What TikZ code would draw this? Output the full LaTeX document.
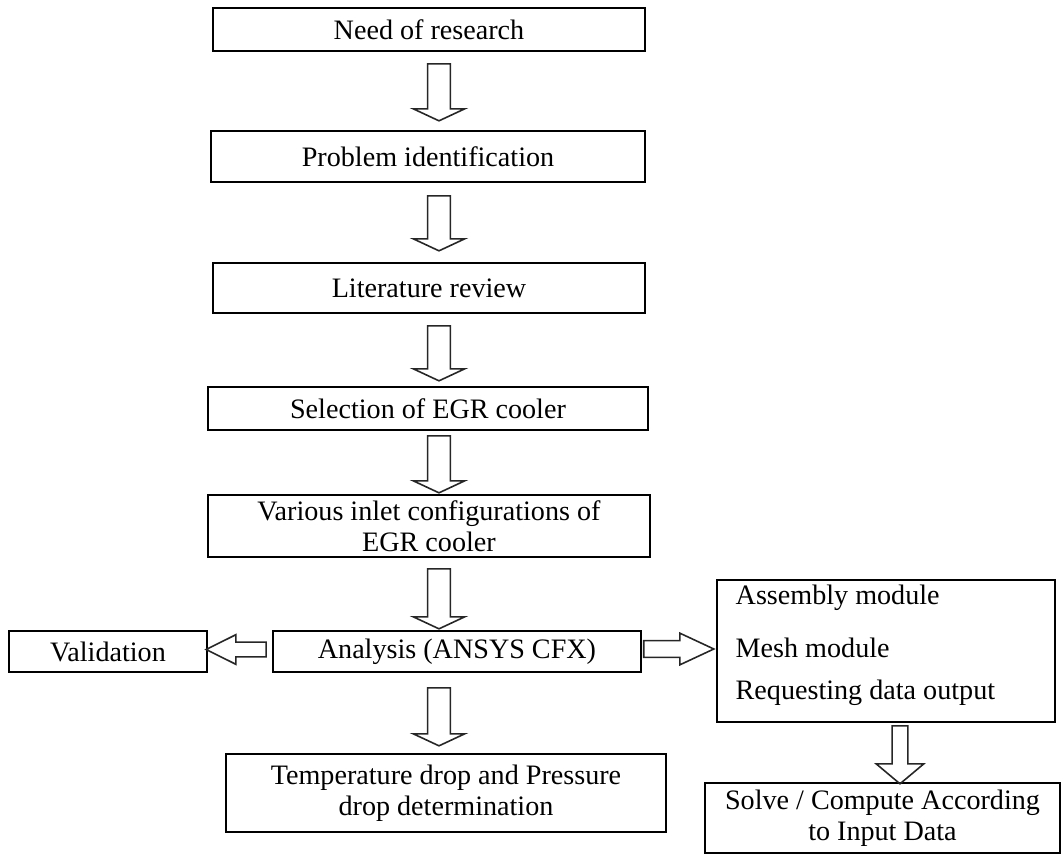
\documentclass[tikz,border=0pt]{standalone}
\usepackage{fontspec}
\setmainfont{Liberation Serif}
\usetikzlibrary{shapes.arrows}
\tikzset{
  box/.style={draw, line width=0.6pt, inner sep=0pt, align=center, font=\fontsize{8}{8.8}\selectfont},
  txt/.style={inner sep=0pt, anchor=west, font=\fontsize{8}{8.8}\selectfont},
  blockarrow/.style={single arrow, draw=black!85, line width=0.45pt, anchor=tail, inner xsep=0pt, inner ysep=0.105cm, single arrow head extend=0.145cm, single arrow tip angle=130},
}
\begin{document}
\begin{tikzpicture}[x=0.01cm, y=-0.01cm]
\useasboundingbox (0,0) rectangle (1062,854);
\node[box, minimum width=4.32cm, minimum height=0.43cm] (need) at (429,29.5) {Need of research};
\node[box, minimum width=4.34cm, minimum height=0.51cm] (prob) at (428,156.5) {Problem identification};
\node[box, minimum width=4.32cm, minimum height=0.50cm] (lit) at (429,288) {Literature review};
\node[box, minimum width=4.40cm, minimum height=0.43cm] (sel) at (428,408.5) {Selection of EGR cooler};
\node[box, minimum width=4.42cm, minimum height=0.62cm] (var) at (429,526) {Various inlet configurations of\\EGR cooler};
\node[box, minimum width=3.68cm, minimum height=0.41cm] (ana) at (457,651.5) {Analysis (ANSYS CFX)};
\node[box, minimum width=1.98cm, minimum height=0.41cm] (val) at (108,651.5) {Validation};
\node[box, minimum width=3.38cm, minimum height=1.42cm] (mods) at (886,651) {};
\node[txt] (asm) at (735,598) {Assembly module};
\node[txt] (mesh) at (735,648) {Mesh module};
\node[txt] (req) at (735,693) {Requesting data output};
\node[box, minimum width=4.40cm, minimum height=0.78cm] (temp) at (446,793) {Temperature drop and Pressure\\drop determination};
\node[box, minimum width=3.55cm, minimum height=0.70cm] (solve) at (882.5,818) {Solve / Compute According\\to Input Data};
\node[blockarrow, rotate=-90, minimum height=0.57cm] (a1) at (439,63) {};
\node[blockarrow, rotate=-90, minimum height=0.55cm] (a2) at (439,195) {};
\node[blockarrow, rotate=-90, minimum height=0.55cm] (a3) at (439,325) {};
\node[blockarrow, rotate=-90, minimum height=0.57cm] (a4) at (439,435) {};
\node[blockarrow, rotate=-90, minimum height=0.60cm] (a5) at (439,568) {};
\node[blockarrow, rotate=-90, minimum height=0.58cm] (a6) at (439,687) {};
\node[blockarrow, rotate=180, minimum height=0.60cm, inner ysep=0.065cm, single arrow head extend=0.075cm, single arrow tip angle=53] (aval) at (267,649.5) {};
\node[blockarrow, minimum height=0.70cm, inner ysep=0.075cm, single arrow head extend=0.075cm, single arrow tip angle=50] (amod) at (643,649) {};
\node[blockarrow, rotate=-90, minimum height=0.58cm, inner ysep=0.07cm, single arrow head extend=0.16cm, single arrow tip angle=100] (asol) at (900,725) {};
\end{tikzpicture}
\end{document}
